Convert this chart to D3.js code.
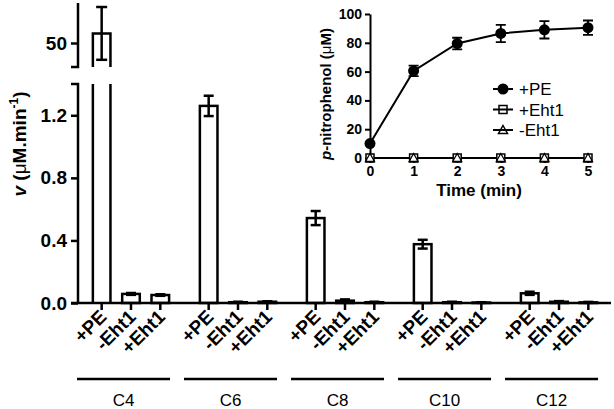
<!DOCTYPE html>
<html><head><meta charset="utf-8">
<script src="https://cdn.jsdelivr.net/npm/d3@7"></script>
<style>body{margin:0;background:#fff}svg{display:block;font-family:"Liberation Sans",Arial,sans-serif}</style>
</head><body><svg id="chart" width="614" height="409"></svg>
<script>
// ---- main chart data ----
const groups = ["C4", "C6", "C8", "C10", "C12"];
const conditions = ["+PE", "-Eht1", "+Eht1"];
const pePlusRate = [56, 1.26, 0.543, 0.376, 0.062];
const pePlusErr = [16.5, 0.065, 0.045, 0.028, 0.01];
const ehtMinusRate = [0.058, 0.005, 0.015, 0.005, 0.008];
const ehtMinusErr = [0.006, 0.003, 0.008, 0.003, 0.004];
const ehtPlusRate = [0.051, 0.008, 0.005, 0.003, 0.004];
const ehtPlusErr = [0.005, 0.003, 0.003, 0.002, 0.003];
const lowTicks = [0, 0.4, 0.8, 1.2];
const highTicks = [50];
// ---- inset data ----
const timeMin = [0, 1, 2, 3, 4, 5];
const pnpPE = [10, 60.5, 79.5, 86.5, 89, 90.5];
const pnpPEErr = [1, 3.7, 4, 6, 6, 5];
const pnpEhtPlus = [0, 0, 0, 0, 0, 0];
const pnpEhtMinus = [0, 0, 0, 0, 0, 0];
const insetYTicks = [0, 20, 40, 60, 80, 100];

const svg = d3.select("#chart");
const SW = 2.5;

// scales
const xG = d3.scaleBand().domain(groups).range([87, 603]).paddingInner(0.178).paddingOuter(0);
const xC = d3.scaleBand().domain(conditions).range([0, xG.bandwidth()]).paddingInner(0.4).paddingOuter(0.2);
const yLow = d3.scaleLinear().domain([0, 1.4]).range([303, 84]);
const yHigh = d3.scaleLinear().domain([35, 75]).range([67, 3]);
const axisX = 78;

const rows = [];
groups.forEach((g, i) => {
  rows.push({g, c: "+PE", v: pePlusRate[i], e: pePlusErr[i]});
  rows.push({g, c: "-Eht1", v: ehtMinusRate[i], e: ehtMinusErr[i]});
  rows.push({g, c: "+Eht1", v: ehtPlusRate[i], e: ehtPlusErr[i]});
});
const cx = d => xG(d.g) + xC(d.c) + xC.bandwidth() / 2;
const bw = xC.bandwidth();

const main = svg.append("g").attr("stroke", "#000").attr("stroke-width", SW).attr("fill", "none");

rows.forEach(d => {
  const x0 = cx(d) - bw / 2, x1 = cx(d) + bw / 2;
  if (d.v <= yLow.domain()[1]) {
    main.append("rect").attr("x", x0).attr("y", yLow(d.v)).attr("width", bw).attr("height", yLow(0) - yLow(d.v)).attr("fill", "#fff");
    const eTop = yLow(d.v + d.e), eBot = yLow(Math.max(0, d.v - d.e));
    main.append("line").attr("x1", cx(d)).attr("x2", cx(d)).attr("y1", eTop).attr("y2", eBot);
    main.append("line").attr("x1", cx(d) - 5).attr("x2", cx(d) + 5).attr("y1", eTop).attr("y2", eTop);
    main.append("line").attr("x1", cx(d) - 5).attr("x2", cx(d) + 5).attr("y1", eBot).attr("y2", eBot);
  } else {
    main.append("path").attr("d", `M${x0},${yLow(0)}V${yLow.range()[1]}M${x1},${yLow(0)}V${yLow.range()[1]}`);
    const yt = yHigh(d.v), yb = yHigh.range()[0];
    main.append("path").attr("d", `M${x0},${yb}V${yt}H${x1}V${yb}`);
    const eTop = yHigh(d.v + d.e), eBot = yHigh(d.v - d.e);
    main.append("line").attr("x1", cx(d)).attr("x2", cx(d)).attr("y1", eTop).attr("y2", eBot);
    main.append("line").attr("x1", cx(d) - 5.5).attr("x2", cx(d) + 5.5).attr("y1", eTop).attr("y2", eTop);
    main.append("line").attr("x1", cx(d) - 5.5).attr("x2", cx(d) + 5.5).attr("y1", eBot).attr("y2", eBot);
  }
});

function styleAxis(g, fs) {
  g.selectAll("path,line").attr("stroke", "#000").attr("stroke-width", SW);
  g.selectAll("text").attr("fill", "#000").attr("font-size", fs).attr("font-weight", "bold");
  g.attr("font-family", null);
}
const gLow = svg.append("g").attr("transform", `translate(${axisX},0)`)
  .call(d3.axisLeft(yLow).tickValues(lowTicks).tickFormat(d3.format(".1f")).tickSize(7).tickSizeOuter(7).tickPadding(4));
styleAxis(gLow, 19);
const gHigh = svg.append("g").attr("transform", `translate(${axisX},0)`)
  .call(d3.axisLeft(yHigh).tickValues(highTicks).tickFormat(d3.format("d")).tickSize(7).tickSizeOuter(0).tickPadding(4));
styleAxis(gHigh, 19);
gHigh.select("path.domain").attr("d", `M-7,${yHigh.range()[0]}H0V${yHigh.range()[1]}`);
gLow.select("path.domain").attr("d", `M-7,${yLow.range()[1]}H0V${yLow.range()[0]}`);

// x axis
const xAxisG = svg.append("g");
xAxisG.append("line").attr("x1", axisX - 7).attr("x2", 611).attr("y1", yLow(0)).attr("y2", yLow(0)).attr("stroke", "#000").attr("stroke-width", SW);
rows.forEach(d => {
  xAxisG.append("line").attr("x1", cx(d)).attr("x2", cx(d)).attr("y1", yLow(0)).attr("y2", yLow(0) + 7).attr("stroke", "#000").attr("stroke-width", SW);
  xAxisG.append("text").attr("transform", `translate(${cx(d) + 6},318) rotate(-45)`)
    .attr("text-anchor", "end").attr("font-size", 19).attr("font-weight", "bold").text(d.c);
});
groups.forEach(g => {
  const s = xG(g);
  svg.append("line").attr("x1", s - 10).attr("x2", s + 83).attr("y1", 379).attr("y2", 379).attr("stroke", "#000").attr("stroke-width", SW);
  svg.append("text").attr("x", s + 36.5).attr("y", 406).attr("text-anchor", "middle").attr("font-size", 17).text(g);
});

// y title
const yt = svg.append("text").attr("transform", "translate(26,144) rotate(-90)").attr("text-anchor", "middle")
  .attr("font-size", 19).attr("font-weight", "bold");
yt.append("tspan").attr("font-style", "italic").text("v");
yt.append("tspan").text(" (");
yt.append("tspan").attr("font-weight", "normal").text("μ");
yt.append("tspan").text("M.min");
yt.append("tspan").attr("font-size", 12).attr("dy", -8).text("-1");
yt.append("tspan").attr("dy", 8).text(")");

// ---- inset ----
const ix = d3.scaleLinear().domain([0, 5]).range([370, 588]);
const iy = d3.scaleLinear().domain([0, 100]).range([158, 14]);
const ins = svg.append("g");
const gIY = ins.append("g").attr("transform", "translate(370,0)")
  .call(d3.axisLeft(iy).tickValues(insetYTicks).tickFormat(d3.format("d")).tickSize(5).tickSizeOuter(0).tickPadding(3));
gIY.selectAll("path,line").attr("stroke", "#000").attr("stroke-width", 2);
gIY.selectAll("text").attr("font-size", 14).attr("font-weight", "bold");
gIY.attr("font-family", null);
const gIX = ins.append("g").attr("transform", "translate(0,158)")
  .call(d3.axisBottom(ix).tickValues(timeMin).tickFormat(d3.format("d")).tickSize(5).tickSizeOuter(0).tickPadding(3));
gIX.select("path.domain").attr("d", `M370,0H591`);
gIX.selectAll("path,line").attr("stroke", "#000").attr("stroke-width", 2);
gIX.selectAll("text").attr("font-size", 14).attr("font-weight", "bold");
gIX.attr("font-family", null);

ins.append("text").attr("x", 479).attr("y", 196).attr("text-anchor", "middle").attr("font-size", 17).attr("font-weight", "bold").text("Time (min)");
const it = ins.append("text").attr("transform", "translate(331,94) rotate(-90)").attr("text-anchor", "middle")
  .attr("font-size", 15).attr("font-weight", "bold");
it.append("tspan").attr("font-style", "italic").text("p");
it.append("tspan").text("-nitrophenol (");
it.append("tspan").attr("font-weight", "normal").text("μ");
it.append("tspan").text("M)");

const lineGen = vals => d3.line().x((d, i) => ix(timeMin[i])).y(d => iy(d))(vals);
ins.append("path").attr("d", lineGen(pnpEhtPlus)).attr("stroke", "#000").attr("stroke-width", 2).attr("fill", "none");
ins.append("path").attr("d", lineGen(pnpEhtMinus)).attr("stroke", "#000").attr("stroke-width", 2).attr("fill", "none");
ins.append("path").attr("d", lineGen(pnpPE)).attr("stroke", "#000").attr("stroke-width", 2).attr("fill", "none");
pnpPE.forEach((v, i) => {
  const x = ix(timeMin[i]), e = pnpPEErr[i];
  ins.append("path").attr("d", `M${x},${iy(v + e)}V${iy(v - e)}M${x - 5},${iy(v + e)}H${x + 5}M${x - 5},${iy(v - e)}H${x + 5}`)
    .attr("stroke", "#000").attr("stroke-width", 1.8).attr("fill", "none");
});
const sq = (x, y) => `M${x - 4},${y - 4}h8v8h-8Z`;
const tri = (x, y) => `M${x},${y - 4.5}L${x + 4.5},${y + 3.5}H${x - 4.5}Z`;
pnpEhtPlus.forEach((v, i) => {
  ins.append("path").attr("d", sq(ix(timeMin[i]), iy(v))).attr("fill", "#fff").attr("stroke", "#000").attr("stroke-width", 1.5);
});
pnpEhtMinus.forEach((v, i) => {
  ins.append("path").attr("d", tri(ix(timeMin[i]), iy(v))).attr("fill", "none").attr("stroke", "#000").attr("stroke-width", 1.3);
});
pnpPE.forEach((v, i) => {
  ins.append("circle").attr("cx", ix(timeMin[i])).attr("cy", iy(v)).attr("r", 5.5).attr("fill", "#000");
});

const legendItems = ["+PE", "+Eht1", "-Eht1"];
legendItems.forEach((name, i) => {
  const y = 89 + i * 20.5;
  const lg = ins.append("g");
  lg.append("line").attr("x1", 493).attr("x2", 513).attr("y1", y).attr("y2", y).attr("stroke", "#000").attr("stroke-width", 2);
  if (i === 0) lg.append("circle").attr("cx", 503).attr("cy", y).attr("r", 5.5).attr("fill", "#000");
  if (i === 1) lg.append("path").attr("d", sq(503, y)).attr("fill", "none").attr("stroke", "#000").attr("stroke-width", 1.5);
  if (i === 2) lg.append("path").attr("d", tri(503, y)).attr("fill", "none").attr("stroke", "#000").attr("stroke-width", 1.5);
  lg.append("text").attr("x", 519).attr("y", y + 6).attr("font-size", 17).text(name);
});
</script></body></html>
